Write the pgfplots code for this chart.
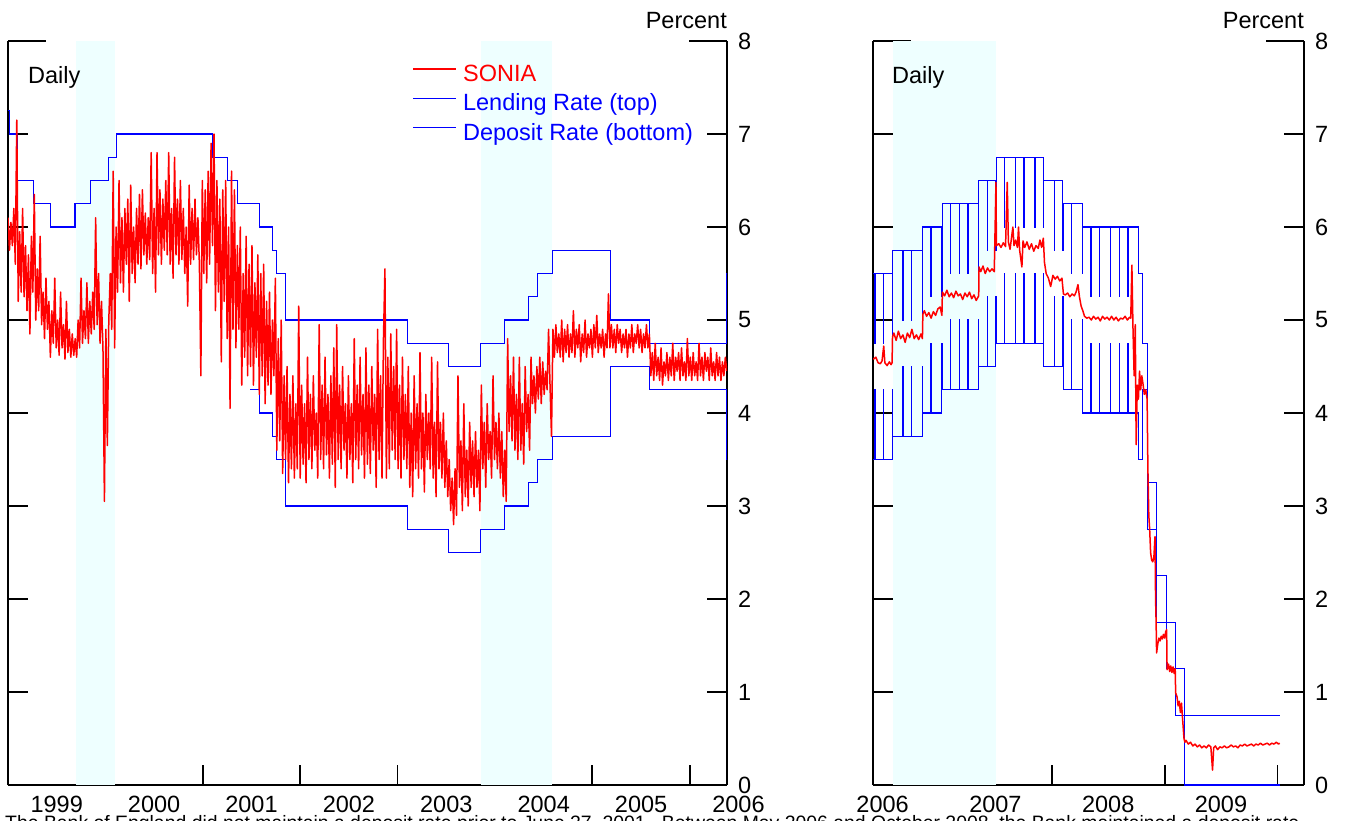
\documentclass[border=0pt]{standalone}
\usepackage{fontspec}
\setmainfont{Liberation Sans}
\usepackage{pgfplots}
\pgfplotsset{compat=1.18}
\definecolor{shade}{RGB}{238,255,255}
\pgfplotsset{
  mystyle/.style={
    scale only axis, height=744pt,
    ymin=0, ymax=8,
    axis x line*=bottom, axis y line*=box,
    xtick pos=bottom, ytick pos=both, yticklabel pos=right,
    axis line style={line width=1.8pt},
    tick align=inside,
    ytick={0,...,7},
    extra y ticks={8}, extra y tick style={major tick length=38pt},
    major tick length=20pt,
    tick style={line width=1.8pt, black},
    yticklabel style={anchor=west, inner sep=0pt, xshift=11pt},
    xticklabel style={anchor=north, inner sep=0pt, yshift=-11pt},
    /pgf/number format/assume math mode=true,
    clip mode=individual,
  }
}
\begin{document}
\fontsize{23.5}{28}\selectfont
\begin{tikzpicture}[x=1pt,y=1pt]
% ---------------- left panel ----------------
\begin{axis}[mystyle, at={(8pt,-785pt)}, anchor=south west, width=719pt,
  xmin=1999, xmax=2006.382,
  xtick={1999,2000,2001,2002,2003,2004,2005,2006},
  xticklabels={1999,2000,2001,2002,2003,2004,2005,2006},
  xticklabel style={xshift=48.7pt},
  legend style={draw=none, fill=none, at={(rel axis cs:0.562,0.969)}, anchor=north west,
    inner sep=0pt, row sep=6.5pt, column sep=6pt, font=\fontsize{23.5}{28}\selectfont,
    nodes={inner sep=0pt, text height=17pt, text depth=6pt}},
  legend cell align=left,
  legend image code/.code={\draw[#1] (0pt,7pt) -- (43pt,7pt);},
]
\addplot[fill=shade, draw=none, forget plot] coordinates {(1999.698,0) (2000.10,0) (2000.10,8) (1999.698,8)};
\addplot[fill=shade, draw=none, forget plot] coordinates {(2003.856,0) (2004.585,0) (2004.585,8) (2003.856,8)};
% Lending rate (top)
\addplot[blue, line width=1.1pt, const plot, forget plot] coordinates {
(1999.000,7.25) (1999.016,7.0) (1999.093,6.5) (1999.266,6.25) (1999.440,6.0) (1999.688,6.25) (1999.843,6.5) (2000.033,6.75) (2000.110,7.0) (2001.104,6.75) (2001.258,6.5) (2001.356,6.25) (2001.586,6.0) (2001.712,5.75) (2001.756,5.5) (2001.853,5.0) (2003.099,4.75) (2003.521,4.5) (2003.847,4.75) (2004.099,5.0) (2004.344,5.25) (2004.440,5.5) (2004.593,5.75) (2005.19,5.0) (2005.590,4.75) (2006.377,5.5) (2006.382,5.5)};
% Deposit rate (bottom)
\addplot[blue, line width=1.1pt, const plot, forget plot] coordinates {
(2001.488,4.25) (2001.586,4.0) (2001.712,3.75) (2001.756,3.5) (2001.853,3.0) (2003.099,2.75) (2003.521,2.5) (2003.847,2.75) (2004.099,3.0) (2004.344,3.25) (2004.440,3.5) (2004.593,3.75) (2005.19,4.5) (2005.590,4.25) (2006.377,3.5) (2006.382,3.5)};
% SONIA
\addplot[red, line width=1.5pt, line join=round, forget plot] coordinates {
(1999.000,6.10) (1999.015,5.75) (1999.030,6.05) (1999.045,5.80) (1999.060,6.20) (1999.075,5.60) (1999.090,7.15) (1999.105,5.20) (1999.120,5.95) (1999.135,5.30)
(1999.150,6.20) (1999.165,5.25) (1999.180,5.80) (1999.195,5.10) (1999.210,5.70) (1999.225,4.85) (1999.240,5.90) (1999.255,5.30) (1999.270,6.35) (1999.285,5.00)
(1999.300,5.55) (1999.315,5.10) (1999.330,5.90) (1999.345,4.95) (1999.360,5.30) (1999.375,4.80) (1999.390,5.45) (1999.405,4.90) (1999.420,5.20) (1999.435,4.60)
(1999.450,5.10) (1999.465,4.75) (1999.480,5.45) (1999.495,4.70) (1999.510,5.00) (1999.525,4.62) (1999.540,5.30) (1999.555,4.70) (1999.570,4.95) (1999.585,4.58)
(1999.600,5.20) (1999.615,4.65) (1999.630,4.90) (1999.645,4.60) (1999.660,4.85) (1999.675,4.62) (1999.690,4.80) (1999.705,4.60) (1999.720,5.00) (1999.735,4.70)
(1999.750,5.45) (1999.765,4.75) (1999.780,5.10) (1999.795,4.80) (1999.810,5.40) (1999.825,4.75) (1999.840,5.20) (1999.855,4.85) (1999.870,5.30) (1999.885,4.90)
(1999.900,6.10) (1999.915,4.95) (1999.930,5.50) (1999.945,4.75) (1999.960,5.20) (1999.975,4.70) (1999.990,3.05) (2000.005,4.90) (2000.020,3.65) (2000.035,5.00)
(2000.050,5.50) (2000.065,4.90) (2000.080,6.60) (2000.095,4.70) (2000.110,6.00) (2000.125,5.30) (2000.140,6.50) (2000.155,5.40) (2000.170,6.10) (2000.185,5.30)
(2000.200,6.20) (2000.215,5.60) (2000.230,6.30) (2000.245,5.20) (2000.260,6.45) (2000.275,5.50) (2000.290,6.00) (2000.305,5.40) (2000.320,6.20) (2000.335,5.60)
(2000.350,6.35) (2000.365,5.55) (2000.380,6.40) (2000.395,5.70) (2000.410,6.15) (2000.425,5.60) (2000.440,6.10) (2000.455,5.65) (2000.470,6.80) (2000.485,5.50)
(2000.500,6.20) (2000.515,5.30) (2000.530,6.80) (2000.545,5.70) (2000.560,6.40) (2000.575,5.60) (2000.590,6.30) (2000.605,5.75) (2000.620,6.50) (2000.635,5.70)
(2000.650,6.80) (2000.665,5.60) (2000.680,6.20) (2000.695,5.45) (2000.710,6.75) (2000.725,5.70) (2000.740,6.30) (2000.755,5.60) (2000.770,6.50) (2000.785,5.65)
(2000.800,6.20) (2000.815,5.50) (2000.830,6.00) (2000.845,5.15) (2000.860,6.45) (2000.875,5.60) (2000.890,6.20) (2000.905,5.65) (2000.920,6.30) (2000.935,5.70)
(2000.950,6.10) (2000.965,5.60) (2000.980,4.40) (2000.995,6.50) (2001.010,5.50) (2001.025,6.40) (2001.040,5.40) (2001.055,6.60) (2001.070,5.60) (2001.085,6.90)
(2001.100,5.80) (2001.115,7.00) (2001.130,5.10) (2001.145,6.50) (2001.160,5.30) (2001.175,6.30) (2001.190,4.55) (2001.205,6.40) (2001.220,5.20) (2001.235,6.50)
(2001.250,4.80) (2001.265,6.00) (2001.280,4.05) (2001.295,6.60) (2001.310,4.90) (2001.325,6.40) (2001.340,4.70) (2001.355,5.80) (2001.370,4.90) (2001.385,6.00)
(2001.400,4.30) (2001.415,5.50) (2001.430,4.60) (2001.445,5.90) (2001.460,4.40) (2001.475,5.60) (2001.490,4.50) (2001.505,5.80) (2001.520,4.30) (2001.535,5.40)
(2001.550,4.60) (2001.565,5.70) (2001.580,4.20) (2001.595,5.50) (2001.610,4.40) (2001.625,5.60) (2001.640,4.10) (2001.655,5.20) (2001.670,4.30) (2001.685,5.30)
(2001.700,4.20) (2001.715,5.00) (2001.730,4.40) (2001.745,5.45) (2001.760,3.60) (2001.775,4.80) (2001.790,3.70) (2001.805,5.00) (2001.820,3.35) (2001.835,4.40)
(2001.850,3.50) (2001.865,4.50) (2001.880,3.25) (2001.895,4.20) (2001.910,3.40) (2001.925,4.40) (2001.940,3.30) (2001.955,4.10) (2001.970,3.40) (2001.985,5.15)
(2002.000,3.30) (2002.015,4.30) (2002.030,3.45) (2002.045,4.10) (2002.060,3.25) (2002.075,4.60) (2002.090,3.50) (2002.105,4.20) (2002.120,3.40) (2002.135,4.40)
(2002.150,3.60) (2002.165,4.00) (2002.180,3.30) (2002.195,4.95) (2002.210,3.50) (2002.225,4.30) (2002.240,3.40) (2002.255,4.60) (2002.270,3.55) (2002.285,4.20)
(2002.300,3.30) (2002.315,4.40) (2002.330,3.45) (2002.345,4.70) (2002.360,3.20) (2002.375,4.95) (2002.390,3.50) (2002.405,4.30) (2002.420,3.40) (2002.435,4.50)
(2002.450,3.60) (2002.465,4.10) (2002.480,3.30) (2002.495,4.40) (2002.510,3.50) (2002.525,4.10) (2002.540,3.25) (2002.555,4.80) (2002.570,3.50) (2002.585,4.30)
(2002.600,3.40) (2002.615,4.60) (2002.630,3.55) (2002.645,4.20) (2002.660,3.30) (2002.675,4.70) (2002.690,3.45) (2002.705,4.30) (2002.720,3.35) (2002.735,4.50)
(2002.750,3.60) (2002.765,4.20) (2002.780,3.20) (2002.795,4.90) (2002.810,3.50) (2002.825,4.40) (2002.840,3.30) (2002.855,4.80) (2002.870,5.55) (2002.885,3.30)
(2002.900,4.60) (2002.915,3.40) (2002.930,4.85) (2002.945,3.60) (2002.960,4.50) (2002.975,3.50) (2002.990,4.90) (2003.005,3.40) (2003.020,4.30) (2003.035,3.30)
(2003.050,4.60) (2003.065,3.50) (2003.080,4.20) (2003.095,3.40) (2003.110,4.50) (2003.125,3.20) (2003.140,4.00) (2003.155,3.10) (2003.170,4.40) (2003.185,3.40)
(2003.200,4.10) (2003.215,3.30) (2003.230,4.65) (2003.245,3.40) (2003.260,4.00) (2003.275,3.15) (2003.290,4.20) (2003.305,3.50) (2003.320,4.00) (2003.335,3.40)
(2003.350,4.60) (2003.365,3.30) (2003.380,3.90) (2003.395,3.10) (2003.410,4.55) (2003.425,3.40) (2003.440,3.90) (2003.455,3.30) (2003.470,4.00) (2003.485,3.20)
(2003.500,3.70) (2003.515,3.10) (2003.530,3.50) (2003.545,2.95) (2003.560,3.30) (2003.575,2.80) (2003.590,3.40) (2003.605,2.90) (2003.620,4.40) (2003.635,3.20)
(2003.650,3.70) (2003.665,2.95) (2003.680,4.10) (2003.695,3.10) (2003.710,3.60) (2003.725,3.00) (2003.740,3.90) (2003.755,3.20) (2003.770,3.70) (2003.785,3.10)
(2003.800,3.80) (2003.815,3.20) (2003.830,3.60) (2003.845,2.95) (2003.860,4.30) (2003.875,3.40) (2003.890,3.90) (2003.905,3.20) (2003.920,4.10) (2003.935,3.50)
(2003.950,3.80) (2003.965,3.30) (2003.980,4.40) (2003.995,3.50) (2004.010,3.90) (2004.025,3.40) (2004.040,4.00) (2004.055,3.30) (2004.070,3.80) (2004.085,3.10)
(2004.100,3.60) (2004.115,3.05) (2004.130,4.80) (2004.145,3.80) (2004.160,4.40) (2004.175,3.70) (2004.190,4.60) (2004.205,3.60) (2004.220,4.20) (2004.235,3.50)
(2004.250,4.60) (2004.265,3.60) (2004.280,4.10) (2004.295,3.45) (2004.310,4.50) (2004.325,3.80) (2004.340,4.20) (2004.355,3.60) (2004.370,4.60) (2004.385,4.10)
(2004.400,4.40) (2004.415,4.00) (2004.430,4.50) (2004.445,4.15) (2004.460,4.60) (2004.475,4.10) (2004.490,4.55) (2004.505,4.20) (2004.520,4.45) (2004.535,4.25)
(2004.550,4.90) (2004.565,4.30) (2004.580,3.75) (2004.595,4.90) (2004.610,4.60) (2004.625,4.95) (2004.640,4.65) (2004.655,4.85) (2004.670,4.60) (2004.685,5.00)
(2004.700,4.55) (2004.715,4.90) (2004.730,4.65) (2004.745,4.95) (2004.760,4.60) (2004.775,4.85) (2004.790,4.65) (2004.805,5.10) (2004.820,4.60) (2004.835,4.90)
(2004.850,4.70) (2004.865,4.95) (2004.880,4.55) (2004.895,4.85) (2004.910,4.65) (2004.925,5.00) (2004.940,4.60) (2004.955,4.85) (2004.970,4.70) (2004.985,4.90)
(2005.000,4.60) (2005.015,4.95) (2005.030,4.70) (2005.045,5.05) (2005.060,4.65) (2005.075,4.85) (2005.090,4.70) (2005.105,4.90) (2005.120,4.60) (2005.135,4.85)
(2005.150,4.70) (2005.165,5.28) (2005.180,4.70) (2005.195,4.95) (2005.210,4.70) (2005.225,4.90) (2005.240,4.65) (2005.255,4.95) (2005.270,4.75) (2005.285,4.90)
(2005.300,4.65) (2005.315,4.85) (2005.330,4.70) (2005.345,4.90) (2005.360,4.60) (2005.375,4.85) (2005.390,4.70) (2005.405,4.95) (2005.420,4.65) (2005.435,4.85)
(2005.450,4.75) (2005.465,4.95) (2005.480,4.70) (2005.495,4.90) (2005.510,4.65) (2005.525,4.85) (2005.540,4.70) (2005.555,4.95) (2005.570,4.70) (2005.585,4.85)
(2005.600,4.40) (2005.615,4.65) (2005.630,4.35) (2005.645,4.75) (2005.660,4.40) (2005.675,4.60) (2005.690,4.35) (2005.705,4.70) (2005.720,4.30) (2005.735,4.55)
(2005.750,4.40) (2005.765,4.65) (2005.780,4.35) (2005.795,4.60) (2005.810,4.40) (2005.825,4.75) (2005.840,4.35) (2005.855,4.60) (2005.870,4.45) (2005.885,4.65)
(2005.900,4.35) (2005.915,4.70) (2005.930,4.40) (2005.945,4.55) (2005.960,4.35) (2005.975,4.80) (2005.990,4.40) (2006.005,4.60) (2006.020,4.35) (2006.035,4.65)
(2006.050,4.40) (2006.065,4.55) (2006.080,4.35) (2006.095,4.75) (2006.110,4.40) (2006.125,4.60) (2006.140,4.35) (2006.155,4.65) (2006.170,4.45) (2006.185,4.60)
(2006.200,4.35) (2006.215,4.70) (2006.230,4.40) (2006.245,4.55) (2006.260,4.35) (2006.275,4.65) (2006.290,4.40) (2006.305,4.60) (2006.320,4.35) (2006.335,4.55)
(2006.350,4.40) (2006.365,4.60) (2006.380,4.45)};
\addlegendimage{red, line width=1.8pt}
\addlegendentry{\textcolor{red}{SONIA}}
\addlegendimage{blue, line width=1.1pt}
\addlegendentry{\textcolor{blue}{Lending Rate (top)}}
\addlegendimage{blue, line width=1.1pt}
\addlegendentry{\textcolor{blue}{Deposit Rate (bottom)}}
\node[anchor=base west, inner sep=0pt] at (rel axis cs:0,1) [xshift=20pt, yshift=-42pt] {Daily};
\node[anchor=base east, inner sep=0pt] at (rel axis cs:1,1) [yshift=13pt] {Percent};
\end{axis}
% ---------------- right panel ----------------
\begin{axis}[mystyle, at={(873pt,-785pt)}, anchor=south west, width=431pt,
  xmin=2006.415, xmax=2010.236,
  xtick={2007,2008,2009,2010},
  xticklabels={2006,2007,2008,2009},
  xticklabel style={xshift=-56.4pt},
]
\addplot[fill=shade, draw=none, forget plot] coordinates {(2006.59,0) (2007.505,0) (2007.505,8) (2006.59,8)};
% Lending rate (top)
\addplot[blue, line width=1.1pt, const plot, forget plot] coordinates {
(2006.375,5.5)
(2006.430,4.75) (2006.433,5.5) (2006.507,4.75) (2006.510,5.5) (2006.584,4.75) (2006.587,5.75)
(2006.679,5.0) (2006.682,5.75) (2006.756,5.0) (2006.759,5.75) (2006.852,5.0) (2006.855,6.0)
(2006.929,5.25) (2006.932,6.0) (2007.025,5.25) (2007.028,6.25)
(2007.101,5.5) (2007.104,6.25) (2007.178,5.5) (2007.181,6.25) (2007.255,5.5) (2007.258,6.25) (2007.351,5.5) (2007.354,6.5)
(2007.427,5.75) (2007.430,6.5) (2007.504,5.75) (2007.507,6.75)
(2007.581,6.0) (2007.584,6.75) (2007.677,6.0) (2007.680,6.75) (2007.753,6.0) (2007.756,6.75) (2007.849,6.0) (2007.852,6.75) (2007.926,6.0) (2007.929,6.5)
(2008.022,5.75) (2008.025,6.5) (2008.098,5.75) (2008.101,6.25)
(2008.175,5.5) (2008.178,6.25) (2008.270,5.5) (2008.273,6.0)
(2008.347,5.25) (2008.350,6.0) (2008.423,5.25) (2008.426,6.0) (2008.519,5.25) (2008.522,6.0) (2008.597,5.25) (2008.600,6.0) (2008.674,5.25) (2008.677,6.0)
(2008.770,5.5) (2008.803,4.75) (2008.849,3.25) (2008.926,2.25) (2009.019,1.75) (2009.096,1.25) (2009.173,0.75) (2010.02,0.75)};
% Deposit rate (bottom)
\addplot[blue, line width=1.1pt, const plot, forget plot] coordinates {
(2006.375,3.5)
(2006.430,4.25) (2006.433,3.5) (2006.507,4.25) (2006.510,3.5) (2006.584,4.25) (2006.587,3.75)
(2006.679,4.5) (2006.682,3.75) (2006.756,4.5) (2006.759,3.75) (2006.852,4.5) (2006.855,4.0)
(2006.929,4.75) (2006.932,4.0) (2007.025,4.75) (2007.028,4.25)
(2007.101,5.0) (2007.104,4.25) (2007.178,5.0) (2007.181,4.25) (2007.255,5.0) (2007.258,4.25) (2007.351,5.0) (2007.354,4.5)
(2007.427,5.25) (2007.430,4.5) (2007.504,5.25) (2007.507,4.75)
(2007.581,5.5) (2007.584,4.75) (2007.677,5.5) (2007.680,4.75) (2007.753,5.5) (2007.756,4.75) (2007.849,5.5) (2007.852,4.75) (2007.926,5.5) (2007.929,4.5)
(2008.022,5.25) (2008.025,4.5) (2008.098,5.25) (2008.101,4.25)
(2008.175,5.0) (2008.178,4.25) (2008.270,5.0) (2008.273,4.0)
(2008.347,4.75) (2008.350,4.0) (2008.423,4.75) (2008.426,4.0) (2008.519,4.75) (2008.522,4.0) (2008.597,4.75) (2008.600,4.0) (2008.674,4.75) (2008.677,4.0)
(2008.770,3.5) (2008.803,4.25) (2008.849,2.75) (2008.926,1.75) (2009.019,1.25) (2009.096,0.75) (2009.173,0.0) (2010.02,0.0)};
% SONIA
\addplot[red, line width=1.5pt, line join=round, forget plot] coordinates {
(2006.375,4.62) (2006.40,4.60) (2006.42,4.58) (2006.44,4.60) (2006.46,4.54) (2006.48,4.53) (2006.495,4.56) (2006.51,4.72) (2006.52,4.54) (2006.54,4.51)
(2006.56,4.55) (2006.575,4.52) (2006.584,4.54) (2006.588,4.82) (2006.60,4.86) (2006.62,4.78) (2006.64,4.88) (2006.66,4.80) (2006.68,4.84) (2006.70,4.76)
(2006.72,4.86) (2006.74,4.81) (2006.76,4.90) (2006.78,4.80) (2006.80,4.84) (2006.82,4.79) (2006.84,4.85) (2006.853,4.80) (2006.857,5.06) (2006.87,5.10)
(2006.89,5.04) (2006.91,5.08) (2006.93,5.02) (2006.95,5.09) (2006.97,5.05) (2006.99,5.12) (2007.01,5.14) (2007.026,5.05) (2007.03,5.30) (2007.05,5.26)
(2007.07,5.32) (2007.09,5.25) (2007.11,5.29) (2007.13,5.24) (2007.15,5.31) (2007.17,5.26) (2007.19,5.28) (2007.21,5.22) (2007.23,5.29) (2007.25,5.25)
(2007.27,5.30) (2007.29,5.23) (2007.31,5.27) (2007.33,5.21) (2007.352,5.26) (2007.355,5.57) (2007.37,5.52) (2007.39,5.58) (2007.41,5.50) (2007.43,5.56)
(2007.45,5.52) (2007.47,5.55) (2007.49,5.52) (2007.505,6.48) (2007.509,5.80) (2007.53,5.82) (2007.55,5.78) (2007.57,5.83) (2007.59,5.79) (2007.605,6.48)
(2007.615,5.84) (2007.63,5.76) (2007.655,6.00) (2007.665,5.80) (2007.68,5.86) (2007.695,5.78) (2007.705,6.00) (2007.715,5.75) (2007.735,5.57) (2007.745,5.85)
(2007.76,5.78) (2007.78,5.84) (2007.80,5.76) (2007.82,5.82) (2007.84,5.74) (2007.86,5.80) (2007.88,5.77) (2007.895,5.86) (2007.91,5.78) (2007.925,5.88)
(2007.935,5.62) (2007.95,5.50) (2007.97,5.45) (2007.99,5.36) (2008.01,5.48) (2008.03,5.44) (2008.05,5.47) (2008.07,5.42) (2008.09,5.45) (2008.103,5.28)
(2008.12,5.27) (2008.14,5.29) (2008.16,5.25) (2008.18,5.28) (2008.20,5.26) (2008.215,5.30) (2008.232,5.38) (2008.245,5.25) (2008.26,5.15) (2008.275,5.10)
(2008.29,5.04) (2008.31,5.02) (2008.33,5.03) (2008.35,5.00) (2008.37,5.04) (2008.39,5.01) (2008.41,5.03) (2008.43,4.99) (2008.45,5.04) (2008.47,5.01)
(2008.49,5.03) (2008.51,5.00) (2008.53,5.04) (2008.55,5.00) (2008.57,5.03) (2008.59,4.99) (2008.61,5.02) (2008.63,5.01) (2008.65,5.04) (2008.67,5.00)
(2008.69,5.03) (2008.70,5.02) (2008.71,5.59) (2008.72,4.90) (2008.73,4.40) (2008.74,4.95) (2008.748,3.66) (2008.758,4.30) (2008.768,4.15) (2008.778,4.45)
(2008.788,4.25) (2008.798,4.40) (2008.81,4.30) (2008.82,4.20) (2008.833,4.25) (2008.845,4.15) (2008.852,3.40) (2008.86,2.90) (2008.868,2.74) (2008.876,2.50)
(2008.885,2.42) (2008.895,2.40) (2008.905,2.45) (2008.915,2.67) (2008.92,2.00) (2008.925,1.74) (2008.929,1.42) (2008.94,1.52) (2008.95,1.58) (2008.96,1.55)
(2008.97,1.60) (2008.98,1.57) (2008.99,1.62) (2009.00,1.58) (2009.01,1.65) (2009.018,1.67) (2009.022,1.24) (2009.035,1.30) (2009.045,1.22) (2009.055,1.28)
(2009.065,1.21) (2009.075,1.27) (2009.085,1.20) (2009.094,1.25) (2009.098,0.99) (2009.11,0.95) (2009.12,0.85) (2009.13,0.90) (2009.14,0.78) (2009.15,0.88)
(2009.16,0.70) (2009.172,0.50) (2009.18,0.46) (2009.19,0.48) (2009.21,0.44) (2009.23,0.46) (2009.25,0.42) (2009.27,0.44) (2009.29,0.41) (2009.31,0.43)
(2009.33,0.40) (2009.35,0.42) (2009.37,0.40) (2009.39,0.43) (2009.41,0.41) (2009.425,0.16) (2009.435,0.40) (2009.45,0.42) (2009.47,0.38) (2009.49,0.41)
(2009.51,0.40) (2009.53,0.42) (2009.55,0.40) (2009.57,0.41) (2009.59,0.43) (2009.61,0.41) (2009.63,0.42) (2009.65,0.40) (2009.67,0.43) (2009.69,0.42)
(2009.71,0.44) (2009.73,0.42) (2009.75,0.43) (2009.77,0.44) (2009.79,0.42) (2009.81,0.44) (2009.83,0.43) (2009.85,0.45) (2009.87,0.43) (2009.89,0.44)
(2009.91,0.45) (2009.93,0.43) (2009.95,0.45) (2009.97,0.44) (2009.99,0.46) (2010.01,0.44) (2010.02,0.45)};
\node[anchor=base west, inner sep=0pt] at (rel axis cs:0,1) [xshift=19pt, yshift=-42pt] {Daily};
\node[anchor=base east, inner sep=0pt] at (rel axis cs:1,1) [yshift=13pt] {Percent};
\end{axis}
\node[anchor=base west, inner sep=0pt, font=\fontsize{19.4}{23}\selectfont] at (5,-829) {The Bank of England did not maintain a deposit rate prior to June 27, 2001.\ \ Between May 2006 and October 2008, the Bank maintained a deposit rate};
\pgfresetboundingbox
\useasboundingbox (0,0) rectangle (1346,-821);
\end{tikzpicture}
\end{document}
